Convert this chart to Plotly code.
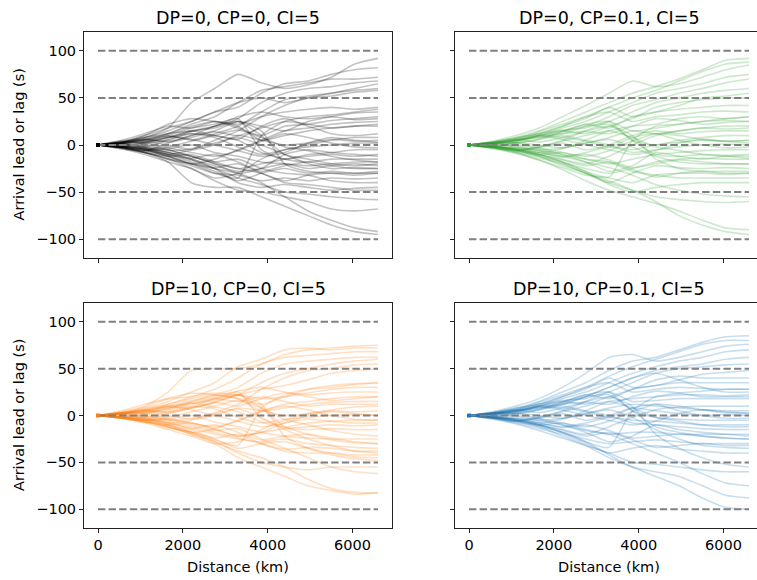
import plotly.graph_objects as go

distance_km = [0, 550, 1100, 1650, 2200, 2750, 3300, 3850, 4400, 4950, 5500, 6050, 6600]
threshold_levels = [-100, -50, 0, 50, 100]
x_tick_values = [0, 2000, 4000, 6000]
y_tick_values = [-100, -50, 0, 50, 100]
y_tick_labels = ["\u2212100", "\u221250", "0", "50", "100"]
panel_titles = ["DP=0, CP=0, CI=5", "DP=0, CP=0.1, CI=5", "DP=10, CP=0, CI=5", "DP=10, CP=0.1, CI=5"]

gray_paths = [
    [0, 4, 8, 18, 45, 60, 75, 66, 60, 64, 72, 86, 92],
    [0, 3, 10, 18, 25, 35, 40, 55, 65, 68, 75, 80, 82],
    [0, 2, 5, 12, 22, 30, 45, 58, 62, 66, 70, 70, 72],
    [0, -2, 3, 8, 15, 20, 28, 45, 55, 60, 62, 66, 68],
    [0, 3, 6, 10, 5, 12, 20, 35, 48, 52, 55, 58, 60],
    [0, 1, -4, -10, -5, 5, 15, 30, 42, 50, 52, 56, 58],
    [0, 5, 12, 20, 18, 25, 22, 30, 35, 38, 40, 38, 40],
    [0, -3, -6, 2, 10, 15, 25, 20, 15, 25, 30, 34, 35],
    [0, 2, 8, 12, 20, 25, 18, 10, 20, 22, 26, 28, 30],
    [0, 4, 2, 6, 14, 20, 30, 35, 30, 28, 30, 27, 28],
    [0, -2, -5, -12, -20, -15, -5, 5, 15, 18, 22, 24, 25],
    [0, 3, 10, 22, 28, 25, 20, 5, 10, 15, 18, 20, 20],
    [0, -4, -10, -18, -25, -35, -30, -15, -5, 0, 5, 8, 8],
    [0, 2, 4, 0, -5, 0, 10, 5, 0, 2, 6, 4, 5],
    [0, -1, -2, 5, 12, 8, -2, -10, -5, -2, 0, 2, 2],
    [0, 2, 5, 10, 18, 22, 28, -5, -15, -10, -8, -5, -5],
    [0, -3, -8, -12, -10, -18, -25, -20, -15, -12, -10, -12, -10],
    [0, 1, 3, 8, 15, 10, 5, -8, -15, -18, -15, -15, -15],
    [0, -2, -6, -4, 0, -8, -12, -18, -20, -22, -20, -18, -18],
    [0, 3, 6, 4, 10, 20, 25, 10, -10, -15, -20, -22, -20],
    [0, -2, -4, -8, -15, -22, -28, -25, -20, -25, -22, -20, -22],
    [0, 1, -2, -6, -4, 2, 8, 0, -10, -20, -25, -24, -25],
    [0, -3, -8, -15, -20, -28, -38, -30, -25, -30, -28, -30, -28],
    [0, 2, 6, 12, 15, 18, 25, 15, -20, -28, -30, -30, -30],
    [0, -4, -8, -14, -22, -30, -32, -38, -35, -38, -35, -36, -35],
    [0, -1, 0, -5, -12, -18, -15, -25, -30, -32, -38, -40, -40],
    [0, -3, -6, -10, -15, -25, -40, -45, -42, -45, -48, -46, -45],
    [0, 2, -3, -8, -12, -20, -25, -30, -40, -42, -45, -48, -48],
    [0, -2, -5, -12, -20, -25, -35, -42, -50, -52, -55, -57, -58],
    [0, -3, -8, -15, -25, -38, -48, -50, -55, -60, -68, -70, -68],
    [0, -1, -4, -10, -18, -25, -30, -40, -55, -70, -80, -88, -92],
    [0, -2, -8, -18, -40, -45, -45, -55, -65, -75, -85, -92, -95],
    [0, -2, -6, -12, -20, -30, -35, 10, 25, 30, 32, 35, 38],
    [0, 3, 8, 15, 25, 35, 45, 50, 45, 50, 55, 60, 65],
    [0, -2, 2, 8, 12, 10, 6, 20, 28, 20, 12, 10, 12],
    [0, 2, -2, -5, -12, -20, -30, -25, -10, -5, -8, -10, -12],
    [0, 2, 6, 3, 8, 14, 10, 18, 25, 22, 18, 20, 22],
    [0, -2, -3, -8, -14, -10, -18, -28, -22, -18, -22, -25, -25],
    [0, 1, 4, 9, 6, 0, -6, -12, -8, 2, 8, 5, 3],
    [0, -1, -5, -2, 4, 10, 16, 8, -2, -6, -12, -16, -18],
    [0, 3, 2, -3, -8, -12, -6, 4, 12, 8, 2, -2, -3],
    [0, -2, -4, -10, -16, -24, -20, -30, -38, -32, -30, -32, -30],
]

green_paths = [
    [0, 3, 8, 15, 25, 35, 45, 55, 62, 70, 80, 90, 92],
    [0, 2, 6, 12, 20, 30, 40, 50, 58, 68, 78, 86, 88],
    [0, 4, 10, 18, 30, 42, 55, 68, 62, 65, 72, 80, 85],
    [0, -2, 3, 10, 18, 25, 35, 45, 55, 60, 65, 72, 75],
    [0, 2, 5, 8, 12, 20, 30, 42, 48, 55, 60, 66, 70],
    [0, -3, -6, -2, 5, 15, 25, 35, 45, 50, 55, 58, 60],
    [0, 3, 8, 12, 20, 28, 40, 30, 35, 42, 50, 52, 55],
    [0, 1, 4, 10, 15, 12, 20, 28, 40, 45, 48, 50, 50],
    [0, -1, 2, 6, 14, 22, 18, 30, 35, 38, 40, 42, 42],
    [0, 2, 6, 14, 22, 30, 35, 25, 30, 32, 35, 36, 35],
    [0, -2, -4, -8, -4, 5, 15, 20, 22, 28, 30, 28, 30],
    [0, 3, 7, 12, 16, 18, 25, 15, 18, 22, 25, 26, 25],
    [0, -2, -5, -10, -15, -20, -12, 0, 10, 15, 18, 20, 20],
    [0, 1, 3, 0, -3, 2, 8, 15, 12, 15, 18, 17, 18],
    [0, -3, -6, -3, 2, -5, 0, 10, 15, 12, 14, 15, 15],
    [0, 2, 5, 10, 15, 22, 25, 5, 0, 5, 8, 10, 10],
    [0, -1, -4, -8, -12, -8, -2, -5, 0, 3, 5, 4, 5],
    [0, 2, 2, 6, 10, 5, 0, -8, -5, -2, 0, 1, 0],
    [0, -2, -6, -10, -8, -15, -20, -15, -10, -8, -6, -5, -5],
    [0, 3, 6, 8, 14, 20, 22, 5, -10, -12, -10, -11, -10],
    [0, -2, -5, -10, -18, -25, -30, -25, -18, -15, -14, -15, -15],
    [0, 1, -1, -5, -3, 2, 6, -2, -12, -18, -20, -20, -20],
    [0, -3, -8, -14, -20, -30, -40, -30, -22, -24, -25, -24, -25],
    [0, 2, 5, 10, 12, 15, 20, 10, -15, -25, -28, -28, -28],
    [0, -4, -9, -16, -24, -32, -35, -40, -32, -30, -30, -31, -30],
    [0, -1, 0, -4, -10, -15, -18, -28, -32, -35, -35, -35, -35],
    [0, -3, -7, -12, -18, -28, -42, -50, -45, -42, -40, -40, -40],
    [0, 2, -2, -6, -12, -18, -24, -32, -42, -48, -52, -54, -55],
    [0, -2, -6, -12, -22, -30, -40, -48, -55, -58, -60, -61, -60],
    [0, -3, -8, -16, -26, -38, -48, -55, -62, -70, -80, -88, -90],
    [0, -1, -5, -12, -20, -30, -38, -48, -60, -75, -85, -92, -95],
    [0, -2, -5, -10, -18, -28, -34, 5, 20, 22, 25, 28, 30],
    [0, 1, 5, 10, 8, 4, -2, 8, 12, 5, 0, -3, -2],
    [0, -1, -3, -6, -10, -18, -28, -22, -8, -12, -15, -12, -12],
    [0, 2, 6, 3, 8, 14, 12, 20, 28, 26, 22, 24, 25],
    [0, -2, -3, -8, -13, -10, -16, -24, -20, -16, -18, -20, -20],
    [0, 1, 4, 9, 6, 0, -5, -10, -6, 2, 6, 4, 2],
    [0, -1, -5, -2, 4, 10, 15, 8, -2, -6, -10, -12, -14],
    [0, 3, 2, -3, -8, -12, -6, 4, 12, 10, 6, 4, 5],
    [0, -2, -4, -10, -16, -22, -18, -26, -34, -30, -28, -30, -30],
]

orange_paths = [
    [0, 4, 10, 25, 48, 50, 50, 55, 65, 70, 72, 74, 75],
    [0, 3, 8, 15, 25, 35, 52, 60, 70, 72, 70, 72, 72],
    [0, 2, 6, 12, 20, 28, 40, 55, 62, 64, 66, 68, 68],
    [0, -2, 2, 8, 15, 22, 30, 45, 55, 58, 60, 62, 62],
    [0, 3, 6, 10, 8, 14, 22, 35, 45, 50, 55, 58, 60],
    [0, 1, -3, -8, -5, 3, 12, 28, 40, 48, 50, 54, 55],
    [0, 5, 12, 18, 20, 24, 22, 28, 32, 38, 45, 48, 50],
    [0, -3, -5, 2, 8, 14, 22, 18, 20, 28, 32, 34, 35],
    [0, 2, 7, 12, 18, 22, 18, 12, 20, 24, 28, 30, 30],
    [0, 3, 2, 6, 12, 18, 26, 30, 25, 22, 24, 25, 25],
    [0, -2, -5, -10, -18, -14, -5, 5, 12, 15, 18, 20, 20],
    [0, 3, 9, 18, 24, 22, 18, 5, 8, 12, 14, 15, 15],
    [0, -3, -8, -15, -22, -30, -28, -15, -5, 2, 6, 9, 10],
    [0, 2, 4, 0, -4, 0, 8, 5, 0, 2, 5, 4, 5],
    [0, -1, -2, 4, 10, 7, -2, -8, -4, -2, 0, 1, 0],
    [0, 2, 5, 10, 16, 20, 25, -3, -12, -8, -6, -5, -5],
    [0, -3, -7, -10, -8, -15, -22, -18, -14, -12, -10, -11, -10],
    [0, 1, 3, 7, 13, 9, 4, -7, -13, -15, -14, -15, -15],
    [0, -2, -5, -4, 0, -7, -12, -18, -22, -24, -25, -25, -25],
    [0, 3, 5, 4, 9, 18, 22, 8, -12, -20, -26, -29, -30],
    [0, -2, -4, -8, -14, -20, -25, -28, -25, -30, -32, -34, -35],
    [0, 1, -2, -5, -3, 2, 7, -2, -15, -25, -32, -38, -40],
    [0, -3, -7, -13, -18, -25, -35, -30, -28, -35, -40, -44, -45],
    [0, 2, 5, 10, 13, 16, 22, 12, -22, -35, -42, -46, -48],
    [0, -3, -7, -12, -20, -28, -40, -50, -55, -58, -55, -55, -55],
    [0, -1, 0, -5, -10, -16, -14, -25, -35, -45, -55, -60, -62],
    [0, -2, -6, -12, -20, -30, -45, -55, -65, -75, -80, -84, -82],
    [0, -2, -5, -10, -18, -28, -38, -45, -55, -68, -78, -82, -83],
    [0, -2, -6, -12, -18, -26, -32, 8, 22, 28, 30, 33, 35],
    [0, 2, -1, -4, -8, -14, -22, -18, -8, -4, -6, -8, -8],
    [0, -1, -3, -7, -12, -18, -24, -30, -38, -40, -40, -42, -42],
    [0, 2, 4, 8, 14, 18, 15, 20, 15, 10, 12, 12, 12],
    [0, 2, 6, 3, 8, 14, 10, 18, 24, 20, 16, 18, 20],
    [0, -2, -3, -8, -14, -10, -18, -26, -22, -20, -24, -28, -30],
    [0, 1, 4, 9, 6, 0, -6, -12, -8, 0, 4, 2, 0],
    [0, -1, -5, -2, 4, 10, 16, 8, -4, -10, -16, -20, -22],
    [0, 3, 2, -3, -8, -12, -6, 4, 10, 6, 0, -4, -5],
    [0, -2, -4, -10, -16, -24, -20, -30, -36, -34, -35, -38, -38],
]

blue_paths = [
    [0, 3, 8, 15, 25, 35, 48, 58, 62, 70, 78, 84, 85],
    [0, 2, 6, 12, 20, 30, 42, 52, 60, 68, 76, 80, 80],
    [0, 4, 10, 18, 30, 45, 62, 65, 58, 62, 68, 74, 76],
    [0, -2, 3, 10, 18, 25, 35, 45, 52, 58, 62, 68, 70],
    [0, 2, 5, 8, 12, 20, 30, 40, 48, 52, 55, 60, 62],
    [0, -3, -6, -2, 5, 15, 25, 35, 45, 50, 52, 54, 55],
    [0, 3, 8, 12, 20, 28, 40, 30, 32, 38, 44, 46, 48],
    [0, 1, 4, 10, 15, 12, 20, 28, 38, 42, 40, 40, 40],
    [0, -1, 2, 6, 14, 22, 18, 28, 32, 35, 35, 35, 35],
    [0, 2, 6, 14, 22, 30, 35, 25, 28, 30, 29, 28, 28],
    [0, -2, -4, -8, -4, 5, 15, 18, 20, 22, 22, 21, 22],
    [0, 3, 7, 12, 16, 18, 25, 15, 16, 18, 18, 18, 18],
    [0, -2, -5, -10, -15, -20, -12, -2, 6, 9, 10, 10, 10],
    [0, 1, 3, 0, -3, 2, 8, 12, 10, 8, 6, 5, 5],
    [0, -3, -6, -3, 2, -5, 0, 8, 5, 2, 0, 1, 0],
    [0, 2, 5, 10, 15, 22, 25, 5, -2, -4, -5, -5, -5],
    [0, -1, -4, -8, -12, -8, -2, -5, -6, -8, -10, -10, -10],
    [0, 2, 2, 6, 10, 5, 0, -8, -10, -12, -14, -15, -15],
    [0, -2, -6, -10, -8, -15, -20, -18, -18, -20, -20, -20, -20],
    [0, 3, 6, 8, 14, 20, 22, 5, -12, -18, -22, -24, -25],
    [0, -2, -5, -10, -18, -25, -30, -28, -26, -28, -30, -30, -30],
    [0, 1, -1, -5, -3, 2, 6, -2, -15, -25, -32, -34, -35],
    [0, -3, -8, -14, -20, -30, -40, -35, -32, -36, -38, -40, -40],
    [0, 2, 5, 10, 12, 15, 20, 10, -20, -35, -45, -52, -55],
    [0, -4, -9, -16, -24, -32, -40, -50, -52, -55, -58, -60, -60],
    [0, -1, 0, -4, -10, -16, -20, -30, -40, -50, -62, -72, -75],
    [0, -3, -7, -12, -18, -28, -42, -55, -60, -65, -75, -85, -88],
    [0, -2, -6, -12, -22, -32, -45, -55, -65, -75, -88, -98, -100],
    [0, -2, -5, -10, -18, -28, -34, 5, 20, 24, 26, 28, 28],
    [0, 1, 5, 10, 8, 4, -2, 8, 12, 5, 0, -3, -3],
    [0, -1, -3, -6, -10, -18, -28, -22, -10, -15, -18, -20, -22],
    [0, 2, 4, 7, 12, 20, 30, 40, 45, 38, 30, 25, 25],
    [0, 2, 6, 3, 8, 14, 12, 20, 26, 24, 20, 20, 20],
    [0, -2, -3, -8, -13, -10, -16, -24, -22, -20, -22, -24, -25],
    [0, 1, 4, 9, 6, 0, -5, -10, -6, 2, 6, 4, 2],
    [0, -1, -5, -2, 4, 10, 15, 8, -2, -6, -10, -12, -12],
    [0, 3, 2, -3, -8, -12, -6, 4, 12, 10, 6, 3, 3],
    [0, -2, -4, -10, -16, -22, -18, -26, -34, -32, -30, -32, -32],
]

panel_paths = [gray_paths, green_paths, orange_paths, blue_paths]
panel_rgb = [(0, 0, 0), (44, 160, 44), (255, 127, 14), (31, 119, 180)]

W, H = 757, 580
x_dom = [[84 / W, 392 / W], [455 / W, 1.0]]
y_dom = [[1 - 258 / H, 1 - 32 / H], [1 - 528 / H, 1 - 303 / H]]
x_ranges = [[-330, 6930], [-330, 6789]]

fig = go.Figure()
FONT = "DejaVu Sans"

for p in range(4):
    row, col = divmod(p, 2)
    ax = "" if p == 0 else str(p + 1)
    r, g, b = panel_rgb[p]
    for path in panel_paths[p]:
        fig.add_trace(go.Scatter(
            x=distance_km, y=path, mode="lines",
            line=dict(color=f"rgba({r},{g},{b},0.24)", width=1.6, shape="spline", smoothing=0.6),
            xaxis="x" + ax, yaxis="y" + ax, showlegend=False, hoverinfo="skip"))
    for lvl in threshold_levels:
        fig.add_trace(go.Scatter(
            x=[distance_km[0], distance_km[-1]], y=[lvl, lvl], mode="lines",
            line=dict(color="#808080", width=2, dash="7.4px,3.2px"),
            xaxis="x" + ax, yaxis="y" + ax, showlegend=False, hoverinfo="skip"))
    fig.add_trace(go.Scatter(
        x=[distance_km[0]], y=[0], mode="markers",
        marker=dict(color=f"rgb({r},{g},{b})", size=4, symbol="square"),
        xaxis="x" + ax, yaxis="y" + ax, showlegend=False, hoverinfo="skip"))

    xa = dict(domain=x_dom[col], range=x_ranges[col], anchor="y" + ax,
              showline=True, mirror=True, linecolor="#222", linewidth=1,
              ticks="outside", ticklen=4, tickwidth=1, tickcolor="#222",
              tickvals=x_tick_values, showticklabels=(row == 1),
              showgrid=False, zeroline=False,
              tickfont=dict(family=FONT, size=14.5, color="black"))
    ya = dict(domain=y_dom[row], range=[-120, 120], anchor="x" + ax,
              showline=True, mirror=(col == 0), linecolor="#222", linewidth=1,
              ticks="outside", ticklen=4, tickwidth=1, tickcolor="#222",
              tickvals=y_tick_values, ticktext=y_tick_labels, showticklabels=(col == 0),
              showgrid=False, zeroline=False,
              tickfont=dict(family=FONT, size=14.5, color="black"))
    fig.layout["xaxis" + ax] = xa
    fig.layout["yaxis" + ax] = ya

annotations = []
title_centers = [(84 + 392) / 2 / W, (455 + 763) / 2 / W]
for p in range(4):
    row, col = divmod(p, 2)
    annotations.append(dict(text=panel_titles[p], xref="paper", yref="paper",
                            x=title_centers[col], y=y_dom[row][1], xanchor="center", yanchor="bottom",
                            yshift=2, showarrow=False,
                            font=dict(family=FONT, size=17.5, color="black")))
for row in range(2):
    annotations.append(dict(text="Arrival lead or lag (s)", xref="paper", yref="paper",
                            x=18.5 / W, y=sum(y_dom[row]) / 2, xanchor="center", yanchor="middle",
                            textangle=-90, showarrow=False,
                            font=dict(family=FONT, size=14.5, color="black")))
for col in range(2):
    annotations.append(dict(text="Distance (km)", xref="paper", yref="paper",
                            x=(x_dom[col][0] * W + 14 + 6600 * 0.04242 / 2) / W, y=1 - 567 / H,
                            xanchor="center", yanchor="middle", showarrow=False,
                            font=dict(family=FONT, size=14.5, color="black")))

fig.update_layout(width=W, height=H, margin=dict(l=0, r=0, t=0, b=0),
                  paper_bgcolor="white", plot_bgcolor="white",
                  annotations=annotations, font=dict(family=FONT))

fig.write_html("out.html", config={"displayModeBar": False},
               post_script="document.body.style.margin='0';document.body.style.padding='0';document.body.style.overflow='hidden';")
